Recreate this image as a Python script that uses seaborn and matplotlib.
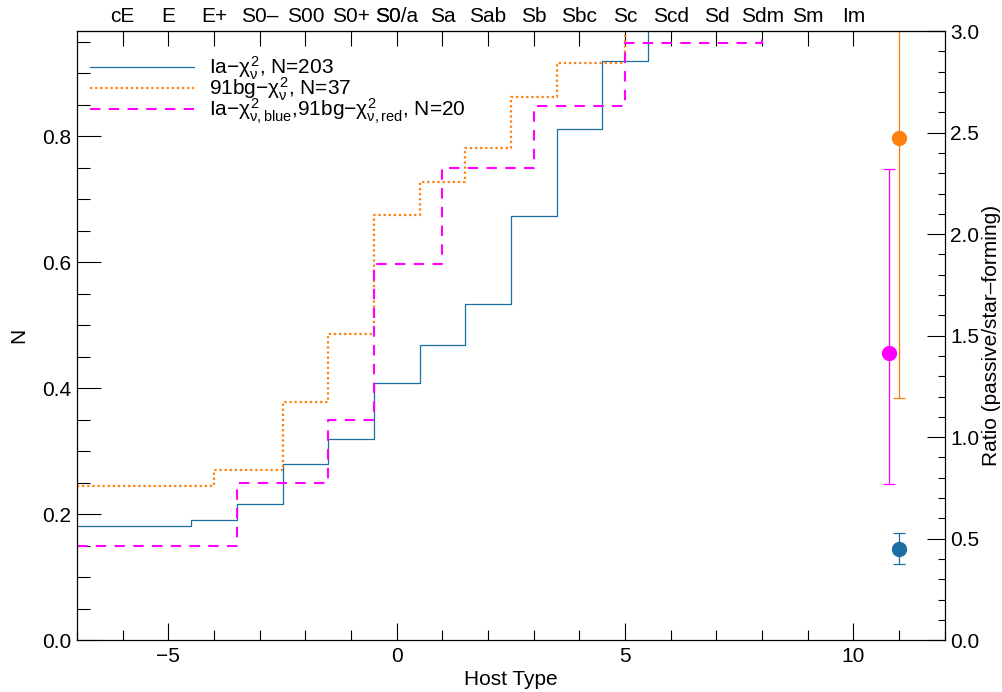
import numpy as np
import matplotlib
matplotlib.use("Agg")
import matplotlib.pyplot as plt
from matplotlib.ticker import MultipleLocator
import seaborn as sns

# --- datos: distribuciones acumuladas por tipo de galaxia huésped ---
ia_x = [-7, -4.5, -3.5, -2.5, -1.5, -0.5, 0.5, 1.5, 2.5, 3.5, 4.5, 5.5, 12]
ia_y = [0.181, 0.1915, 0.216, 0.280, 0.319, 0.408, 0.468, 0.533, 0.673, 0.811, 0.919, 1.0, 1.0]

bg_x = [-7, -4.0, -2.5, -1.5, -0.5, 0.5, 1.5, 2.5, 3.5, 5.0, 12]
bg_y = [0.244, 0.270, 0.378, 0.486, 0.675, 0.728, 0.782, 0.862, 0.917, 1.0, 1.0]

mix_x = [-7, -3.5, -1.5, -0.5, 1.0, 3.0, 5.0, 8.0, 12]
mix_y = [0.149, 0.250, 0.350, 0.598, 0.749, 0.848, 0.948, 1.0, 1.0]

# cociente pasivas / formadoras de estrellas (eje derecho)
ratio_x = [11.0, 11.0, 10.77]
ratio_val = [0.451, 2.475, 1.416]
ratio_lo = [0.377, 1.195, 0.771]
ratio_hi = [0.526, 3.3, 2.319]

labels = [r'Ia$-\chi^2_\nu$, N=203',
          r'91bg$-\chi^2_\nu$, N=37',
          r'Ia$-\chi^2_{\nu,\mathrm{blue}}$,91bg$-\chi^2_{\nu,\mathrm{red}}$, N=20']
colors = ['#1a6fa3', '#ff7f0e', '#ff00ff']

top_pos = list(range(-6, 11))
top_lab = ['cE', 'E', 'E+', 'S0–', 'S00', 'S0+', 'S0/a', 'Sa', 'Sab', 'Sb',
           'Sbc', 'Sc', 'Scd', 'Sd', 'Sdm', 'Sm', 'Im']

sns.set_theme(style='ticks')
plt.rcParams['font.family'] = ['Liberation Sans', 'DejaVu Sans']
plt.rcParams['mathtext.fontset'] = 'custom'
plt.rcParams['mathtext.rm'] = 'Liberation Sans'
plt.rcParams['mathtext.it'] = 'Liberation Sans'
plt.rcParams['mathtext.bf'] = 'Liberation Sans:bold'
plt.rcParams['axes.linewidth'] = 0.8
plt.rcParams['axes.edgecolor'] = 'black'
plt.rcParams['text.color'] = 'black'
plt.rcParams['axes.labelcolor'] = 'black'
plt.rcParams['xtick.color'] = 'black'
plt.rcParams['ytick.color'] = 'black'

fs = 15
fig, ax = plt.subplots(figsize=(10.03, 6.92), dpi=100)
fig.subplots_adjust(left=0.0768, right=0.942, top=0.955, bottom=0.075)

sns.lineplot(x=ia_x, y=ia_y, ax=ax, color=colors[0], lw=0.9,
             drawstyle='steps-post', label=labels[0])
sns.lineplot(x=bg_x, y=bg_y, ax=ax, color=colors[1], lw=1.6,
             drawstyle='steps-post', linestyle=(0, (1, 1.3)), label=labels[1])
sns.lineplot(x=mix_x, y=mix_y, ax=ax, color=colors[2], lw=1.5,
             drawstyle='steps-post', linestyle=(0, (5, 4)), label=labels[2])

ax.set_xlim(-7, 12)
ax.set_ylim(0, 0.967)
ax.xaxis.set_major_locator(MultipleLocator(5))
ax.xaxis.set_minor_locator(MultipleLocator(1))
ax.yaxis.set_major_locator(MultipleLocator(0.2))
ax.yaxis.set_minor_locator(MultipleLocator(0.05))
ax.tick_params(axis='x', which='major', direction='in', length=12, width=0.8, labelsize=fs, pad=5)
ax.tick_params(axis='x', which='minor', direction='in', length=7, width=0.8)
ax.tick_params(axis='y', which='major', direction='in', length=17, width=0.8, labelsize=fs, pad=4)
ax.tick_params(axis='y', which='minor', direction='in', length=9, width=0.8)
ax.set_xlabel('Host Type', fontsize=fs, labelpad=3)
ax.set_ylabel('N', fontsize=fs, labelpad=10)

# eje superior con la clasificación morfológica
top = ax.secondary_xaxis('top')
top.set_xticks(top_pos, top_lab)
top.tick_params(direction='in', length=11, width=0.8, labelsize=fs, pad=4)
top2 = ax.secondary_xaxis('top')
top2.set_xticks([-0.19], ['S0'])
top2.tick_params(direction='in', length=0, labelsize=fs, pad=4)
top2.spines['top'].set_visible(False)

# eje derecho: cocientes con barras de error
ax2 = ax.twinx()
for xv, v, lo, hi, c in zip(ratio_x, ratio_val, ratio_lo, ratio_hi, colors):
    ax2.errorbar([xv], [v], yerr=[[v - lo], [hi - v]], fmt='o', color=c,
                 ms=10, elinewidth=0.9, capsize=4, capthick=0.9)
ax2.set_ylim(0, 3.0)
ax2.yaxis.set_major_locator(MultipleLocator(0.5))
ax2.yaxis.set_minor_locator(MultipleLocator(0.1))
ax2.tick_params(axis='y', which='major', direction='in', length=13, width=0.8, labelsize=fs, pad=4)
ax2.tick_params(axis='y', which='minor', direction='in', length=5, width=0.8)
ax2.set_ylabel('Ratio (passive/star\u2013forming)', fontsize=fs, labelpad=2)

ax.legend(loc='upper left', bbox_to_anchor=(0.015, 0.962), frameon=False,
          fontsize=fs, handlelength=5.0, handletextpad=0.7, labelspacing=-0.3,
          borderaxespad=0, borderpad=0)

plt.savefig('out.png', dpi=100)
plt.close()
